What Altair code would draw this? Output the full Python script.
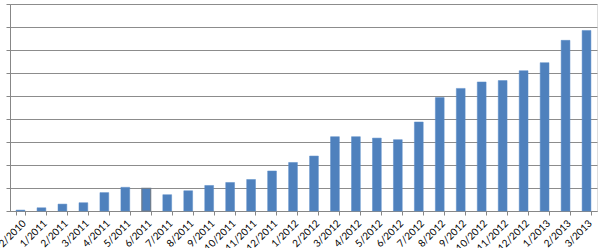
import altair as alt
import pandas as pd

months = ["12/2010", "1/2011", "2/2011", "3/2011", "4/2011", "5/2011", "6/2011",
          "7/2011", "8/2011", "9/2011", "10/2011", "11/2011", "12/2011", "1/2012",
          "2/2012", "3/2012", "4/2012", "5/2012", "6/2012", "7/2012", "8/2012",
          "9/2012", "10/2012", "11/2012", "12/2012", "1/2013", "2/2013", "3/2013"]
values = [0.04, 0.14, 0.30, 0.36, 0.80, 1.03, 0.98,
          0.71, 0.88, 1.11, 1.24, 1.37, 1.74, 2.11,
          2.39, 3.23, 3.23, 3.17, 3.10, 3.87, 4.93,
          5.33, 5.61, 5.67, 6.10, 6.45, 7.42, 7.85]
selected = "6/2011"
y_ticks = [0, 1, 2, 3, 4, 5, 6, 7, 8, 9]

df = pd.DataFrame({"month": months, "value": values})

chart = alt.Chart(df).mark_bar(color="#4F81BD").encode(
    x=alt.X("month:N", sort=months, title=None,
            scale=alt.Scale(paddingInner=0.58, paddingOuter=0.29),
            axis=alt.Axis(labelAngle=-45, labelFont="Lato", labelFontSize=10,
                          labelColor="#000000", labelPadding=3,
                          tickBand="extent", tickSize=4, tickColor="#878787",
                          domainColor="#878787", labelOverlap=False)),
    y=alt.Y("value:Q", title=None,
            scale=alt.Scale(domain=[0, 9], nice=False),
            axis=alt.Axis(values=y_ticks, labels=False, tickSize=4,
                          tickColor="#878787", domainColor="#878787",
                          gridColor="#8C8C8C", gridWidth=1)),
    stroke=alt.condition(alt.datum.month == selected, alt.value("#6E7B8B"), alt.value("#5B8CC8")),
    strokeWidth=alt.condition(alt.datum.month == selected, alt.value(1.2), alt.value(0.5)),
).properties(
    width=587, height=207,
    autosize=alt.AutoSizeParams(type="none"),
    padding={"left": 10, "top": 4, "right": 2, "bottom": 37},
).configure_view(stroke=None).configure(background="#FFFFFF")

chart.save("out.html", embed_options={"renderer": "svg", "actions": False})
